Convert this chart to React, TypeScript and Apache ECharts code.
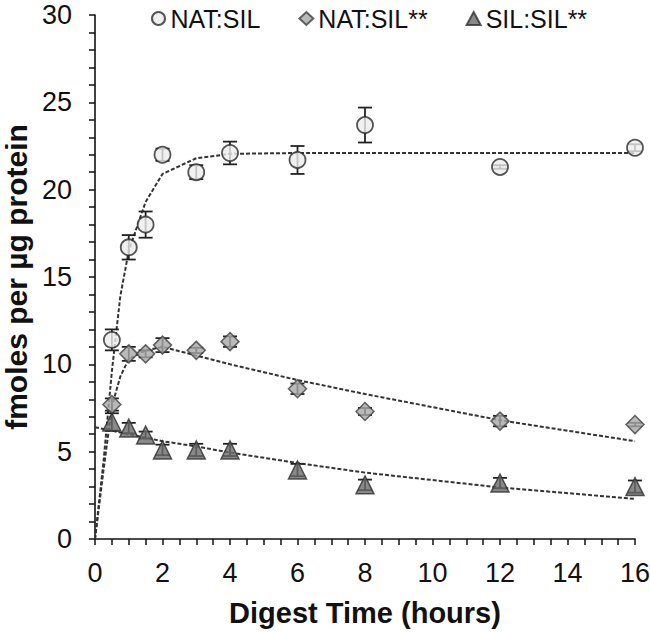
import React, { useEffect, useRef } from "react";
import * as echarts from "echarts";

const times = [0.5, 1, 1.5, 2, 3, 4, 6, 8, 12, 16];
const natSil = [11.4, 16.7, 18.0, 22.0, 21.0, 22.1, 21.7, 23.7, 21.3, 22.4];
const natSilErr = [0.6, 0.7, 0.75, 0.35, 0.4, 0.65, 0.8, 1.0, 0.1, 0.2];
const natSilStar = [7.7, 10.6, 10.6, 11.1, 10.8, 11.3, 8.6, 7.3, 6.75, 6.55];
const natSilStarErr = [0.35, 0.4, 0.2, 0.4, 0.15, 0.3, 0.3, 0.2, 0.3, 0.1];
const silSil = [6.7, 6.35, 5.95, 5.1, 5.1, 5.1, 3.95, 3.1, 3.2, 3.0];
const silSilErr = [0.5, 0.3, 0.2, 0.3, 0.35, 0.35, 0.35, 0.3, 0.3, 0.35];

const fitTimes = [0, 0.25, 0.5, 0.75, 1, 1.5, 2, 3, 4, 6, 8, 12, 16];
const natSilFit = [0, 4.4, 9.6, 13.9, 16.5, 19.3, 20.9, 21.8, 22.05, 22.1, 22.1, 22.1, 22.1];
const natSilStarFit = [0, 3.9, 7.6, 9.3, 10.3, 10.8, 11.0, 10.5, 10.0, 9.1, 8.3, 6.8, 5.6];
const silSilFit = [6.4, 6.3, 6.2, 6.1, 6.0, 5.8, 5.6, 5.3, 4.95, 4.35, 3.8, 2.95, 2.3];

const seriesNames = ["NAT:SIL", "NAT:SIL**", "SIL:SIL**"];

const FONT = "'Liberation Sans', Arial, sans-serif";

function pairs(xs: number[], ys: number[]) {
  return xs.map((x, i) => [x, ys[i]]);
}
function triples(xs: number[], ys: number[], es: number[]) {
  return xs.map((x, i) => [x, ys[i], es[i]]);
}

function errorSeries(data: number[][]) {
  return {
    type: "custom",
    silent: true,
    z: 3,
    encode: { x: 0, y: 1 },
    data,
    renderItem: (params: any, api: any) => {
      const x = api.value(0);
      const y = api.value(1);
      const e = api.value(2);
      const top = api.coord([x, y + e]);
      const bot = api.coord([x, y - e]);
      const half = 7;
      const style = { stroke: "#222", lineWidth: 1.8 };
      return {
        type: "group",
        children: [
          { type: "line", shape: { x1: top[0], y1: top[1], x2: bot[0], y2: bot[1] }, style },
          { type: "line", shape: { x1: top[0] - half, y1: top[1], x2: top[0] + half, y2: top[1] }, style },
          { type: "line", shape: { x1: bot[0] - half, y1: bot[1], x2: bot[0] + half, y2: bot[1] }, style },
        ],
      };
    },
  };
}

function fitSeries(ys: number[]) {
  return {
    type: "line",
    data: pairs(fitTimes, ys),
    symbol: "none",
    silent: true,
    z: 2,
    lineStyle: { color: "#333", width: 2, type: [4, 2] },
  };
}

export default function App() {
  const ref = useRef<HTMLDivElement>(null);
  useEffect(() => {
    if (!ref.current) return;
    const chart = echarts.init(ref.current, null, { renderer: "svg" });
    const axisLine = { show: true, lineStyle: { color: "#111", width: 1.6 } };
    chart.setOption({
      animation: false,
      backgroundColor: "#fff",
      textStyle: { fontFamily: FONT },
      grid: { left: 95, right: 15, top: 15, bottom: 93, outerBoundsMode: "none" },
      legend: {
        data: seriesNames,
        top: 1,
        left: 146,
        itemGap: 38,
        itemWidth: 14,
        itemHeight: 13,
        textStyle: { fontSize: 25, color: "#111", fontFamily: FONT },
      },
      xAxis: {
        type: "value",
        min: 0,
        max: 16,
        interval: 2,
        name: "Digest Time (hours)",
        nameLocation: "middle",
        nameGap: 59,
        nameTextStyle: { fontSize: 29, fontWeight: "bold", color: "#111", fontFamily: FONT },
        axisLine,
        axisTick: { show: true, length: 6, lineStyle: { color: "#111", width: 1.5 } },
        minorTick: { show: true, splitNumber: 4, length: 6, lineStyle: { color: "#111", width: 1.5 } },
        splitLine: { show: false },
        axisLabel: { fontSize: 27, color: "#111", margin: 20, fontFamily: FONT },
      },
      yAxis: {
        type: "value",
        min: 0,
        max: 30,
        interval: 5,
        name: "fmoles per µg protein",
        nameLocation: "middle",
        nameGap: 58,
        nameTextStyle: { fontSize: 30, fontWeight: "bold", color: "#111", fontFamily: FONT },
        axisLine,
        axisTick: { show: true, length: 6, lineStyle: { color: "#111", width: 1.5 } },
        minorTick: { show: true, splitNumber: 5, length: 6, lineStyle: { color: "#111", width: 1.5 } },
        splitLine: { show: false },
        axisLabel: { fontSize: 27, color: "#111", margin: 23, fontFamily: FONT },
      },
      series: [
        fitSeries(natSilFit),
        fitSeries(natSilStarFit),
        fitSeries(silSilFit),
        errorSeries(triples(times, natSil, natSilErr)),
        errorSeries(triples(times, natSilStar, natSilStarErr)),
        errorSeries(triples(times, silSil, silSilErr)),
        {
          name: seriesNames[0],
          type: "scatter",
          z: 5,
          data: pairs(times, natSil),
          symbol: "circle",
          symbolSize: 16,
          itemStyle: { color: "#ececec", borderColor: "#2a2a2a", borderWidth: 1.8 },
        },
        {
          name: seriesNames[1],
          type: "scatter",
          z: 5,
          data: pairs(times, natSilStar),
          symbol: "diamond",
          symbolSize: 18,
          itemStyle: { color: "#a8a8a8", borderColor: "#404040", borderWidth: 1.5 },
        },
        {
          name: seriesNames[2],
          type: "scatter",
          z: 5,
          data: pairs(times, silSil),
          symbol: "triangle",
          symbolSize: 18,
          itemStyle: { color: "#6c6c6c", borderColor: "#303030", borderWidth: 1.5 },
        },
      ],
    });
    return () => chart.dispose();
  }, []);
  return (
    <div
      ref={ref}
      style={{ position: "absolute", left: 0, top: 0, width: 650, height: 632 }}
    />
  );
}
